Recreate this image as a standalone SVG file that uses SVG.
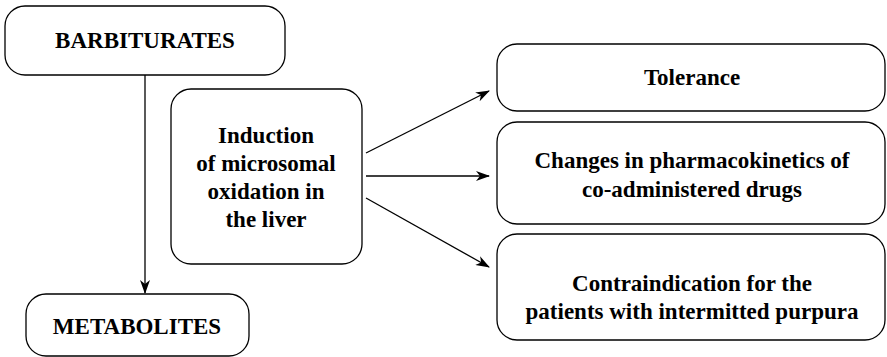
<svg xmlns="http://www.w3.org/2000/svg" width="887" height="357" viewBox="0 0 887 357">
  <style>
    .box { fill: #ffffff; stroke: #000000; stroke-width: 1.3; }
    .edge { fill: none; stroke: #000000; stroke-width: 1.3; marker-end: url(#arrow); }
  </style>
  <defs>
    <marker id="arrow" viewBox="0 0 14 10" refX="13" refY="5" markerWidth="14" markerHeight="10" markerUnits="userSpaceOnUse" orient="auto">
      <path d="M0,0 L14,5 L0,10 L4,5 Z" fill="#000000"/>
    </marker>
  </defs>
  <rect width="887" height="357" fill="#ffffff"/>

  <g id="connectors">
    <line class="edge" x1="145" y1="75" x2="145" y2="293"/>
    <line class="edge" x1="366" y1="153" x2="489" y2="91"/>
    <line class="edge" x1="366" y1="176" x2="489" y2="176"/>
    <line class="edge" x1="366" y1="198" x2="489" y2="267"/>
  </g>

  <g font-family="Liberation Serif, serif" font-weight="bold" font-size="23" fill="#000000" text-anchor="middle">
    <g id="barbiturates">
      <rect class="box" x="5" y="6" width="280" height="69" rx="20" ry="20"/>
      <text x="145" y="48">BARBITURATES</text>
    </g>

    <g id="metabolites">
      <rect class="box" x="26" y="294" width="223" height="62" rx="20" ry="20"/>
      <text x="137" y="334">METABOLITES</text>
    </g>

    <g id="induction">
      <rect class="box" x="171" y="89" width="191" height="175" rx="20" ry="20"/>
      <text x="266" y="143">Induction</text>
      <text x="266" y="171">of microsomal</text>
      <text x="266" y="199">oxidation in</text>
      <text x="266" y="227">the liver</text>
    </g>

    <g id="tolerance">
      <rect class="box" x="497" y="44" width="388" height="67" rx="20" ry="20"/>
      <text x="692" y="85">Tolerance</text>
    </g>

    <g id="pharmacokinetics">
      <rect class="box" x="497" y="122" width="388" height="102" rx="20" ry="20"/>
      <text x="692" y="168">Changes in pharmacokinetics of</text>
      <text x="692" y="197">co-administered drugs</text>
    </g>

    <g id="contraindication">
      <rect class="box" x="497" y="234" width="388" height="106" rx="20" ry="20"/>
      <text x="692" y="291">Contraindication for the</text>
      <text x="692" y="319">patients with intermitted purpura</text>
    </g>
  </g>
</svg>
